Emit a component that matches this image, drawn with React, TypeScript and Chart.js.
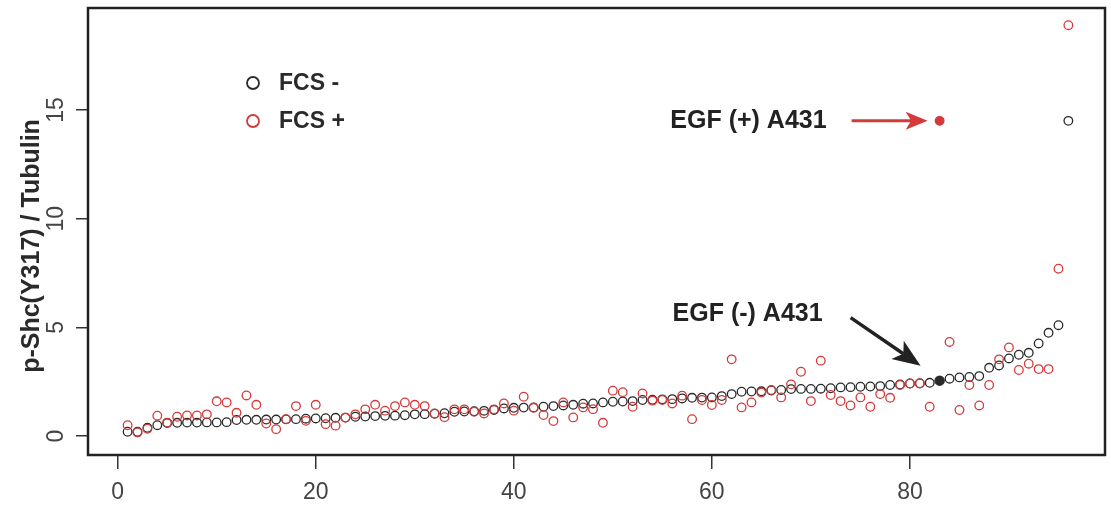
import React, { useEffect, useRef } from 'react';
import { Chart, registerables } from 'chart.js';

Chart.register(...registerables);

// ---- data ----
const xTickValues = [0, 20, 40, 60, 80];
const yTickValues = [0, 5, 10, 15];

// FCS - (black), sample 1..96, sorted ascending
const fcsMinus = [
  0.2, 0.2, 0.38, 0.5, 0.6, 0.61, 0.62, 0.62, 0.63, 0.63,
  0.64, 0.74, 0.75, 0.75, 0.76, 0.76, 0.77, 0.78, 0.8, 0.81,
  0.82, 0.84, 0.85, 0.89, 0.9, 0.92, 0.93, 0.94, 0.96, 1.0,
  1.01, 1.03, 1.05, 1.12, 1.13, 1.14, 1.16, 1.2, 1.27, 1.3,
  1.31, 1.32, 1.35, 1.38, 1.41, 1.44, 1.49, 1.5, 1.55, 1.58,
  1.59, 1.61, 1.66, 1.67, 1.69, 1.7, 1.73, 1.76, 1.77, 1.78,
  1.84, 1.93, 2.04, 2.05, 2.06, 2.1, 2.12, 2.16, 2.17, 2.17,
  2.18, 2.2, 2.24, 2.25, 2.27, 2.28, 2.3, 2.35, 2.37, 2.42,
  2.43, 2.45, 2.55, 2.64, 2.7, 2.72, 2.76, 3.14, 3.25, 3.57,
  3.74, 3.83, 4.26, 4.75, 5.1, 14.5,
];

// FCS + (red), same samples
const fcsPlus = [
  0.5, 0.17, 0.34, 0.94, 0.62, 0.89, 0.95, 0.95, 1.0, 1.6,
  1.55, 1.07, 1.87, 1.44, 0.58, 0.32, 0.78, 1.38, 0.7, 1.44,
  0.55, 0.48, 0.85, 1.0, 1.23, 1.44, 1.17, 1.38, 1.55, 1.44,
  1.38, 1.04, 0.87, 1.23, 1.23, 1.12, 1.04, 1.23, 1.5, 1.17,
  1.81, 1.3, 0.97, 0.69, 1.55, 0.86, 1.32, 1.24, 0.61, 2.09,
  2.02, 1.35, 1.96, 1.63, 1.66, 1.5, 1.86, 0.78, 1.66, 1.43,
  1.66, 3.53, 1.32, 1.55, 2.0, 2.12, 1.78, 2.38, 2.96, 1.61,
  3.47, 1.89, 1.61, 1.41, 1.78, 1.35, 1.93, 1.76, 2.35, 2.42,
  2.42, 1.35, 14.5, 4.33, 1.2, 2.35, 1.41, 2.35, 3.53, 4.08,
  3.04, 3.33, 3.08, 3.08, 7.7, 18.9,
];

const highlightSample = 83; // EGF-treated A431 control
const legendLabels = ['FCS -', 'FCS +'];
const annotationPlus = 'EGF (+) A431';
const annotationMinus = 'EGF (-) A431';
const yTitle = 'p-Shc(Y317) / Tubulin';

const BLACK = '#2a2a2a';
const RED = '#d43a3a';
const TICK_FONT = '"Liberation Sans", Arial, sans-serif';
const BOLD_FONT = '"Liberation Sans", Arial, sans-serif';

function drawArrow(
  ctx: CanvasRenderingContext2D,
  x1: number, y1: number, x2: number, y2: number,
  headLen: number, headHalf: number, color: string, lw: number
) {
  const ang = Math.atan2(y2 - y1, x2 - x1);
  const c = Math.cos(ang), s = Math.sin(ang);
  const bx = x2 - headLen * c, by = y2 - headLen * s;
  const nx = x2 - headLen * 0.75 * c, ny = y2 - headLen * 0.75 * s;
  ctx.save();
  ctx.strokeStyle = color;
  ctx.fillStyle = color;
  ctx.lineWidth = lw;
  ctx.beginPath();
  ctx.moveTo(x1, y1);
  ctx.lineTo(nx, ny);
  ctx.stroke();
  ctx.beginPath();
  ctx.moveTo(x2, y2);
  ctx.lineTo(bx - headHalf * s, by + headHalf * c);
  ctx.lineTo(nx, ny);
  ctx.lineTo(bx + headHalf * s, by - headHalf * c);
  ctx.closePath();
  ctx.fill();
  ctx.restore();
}

const decorPlugin = {
  id: 'decor',
  afterDraw(chart: any) {
    const { ctx, chartArea, scales } = chart;
    const xs = scales.x, ys = scales.y;
    ctx.save();

    // box
    ctx.strokeStyle = '#222';
    ctx.lineWidth = 2.5;
    ctx.strokeRect(chartArea.left, chartArea.top, chartArea.right - chartArea.left, chartArea.bottom - chartArea.top);

    // y tick labels, rotated
    ctx.fillStyle = '#444';
    ctx.font = `23px ${TICK_FONT}`;
    ctx.textAlign = 'center';
    ctx.textBaseline = 'middle';
    yTickValues.forEach((v) => {
      const py = ys.getPixelForValue(v);
      ctx.save();
      ctx.translate(57, py);
      ctx.rotate(-Math.PI / 2);
      ctx.fillText(String(v), 0, 0);
      ctx.restore();
    });

    // y title
    ctx.save();
    ctx.fillStyle = '#2a2a2a';
    ctx.font = `bold 25px ${BOLD_FONT}`;
    ctx.translate(32, 246);
    ctx.rotate(-Math.PI / 2);
    ctx.textAlign = 'center';
    ctx.textBaseline = 'middle';
    ctx.fillText(yTitle, 0, 0);
    ctx.restore();

    // legend
    const legendColors = [BLACK, RED];
    const legendY = [83, 121];
    legendLabels.forEach((lab, i) => {
      ctx.beginPath();
      ctx.strokeStyle = legendColors[i];
      ctx.lineWidth = 1.8;
      ctx.arc(253, legendY[i], 6, 0, Math.PI * 2);
      ctx.stroke();
      ctx.fillStyle = '#2a2a2a';
      ctx.font = `bold 23px ${BOLD_FONT}`;
      ctx.textAlign = 'left';
      ctx.textBaseline = 'middle';
      ctx.fillText(lab, 279, legendY[i] + 1);
    });

    // annotations
    const hi = highlightSample - 1;
    const px = xs.getPixelForValue(highlightSample);
    const pyPlus = ys.getPixelForValue(fcsPlus[hi]);
    const pyMinus = ys.getPixelForValue(fcsMinus[hi]);

    ctx.fillStyle = '#222';
    ctx.font = `bold 25px ${BOLD_FONT}`;
    ctx.textAlign = 'right';
    ctx.textBaseline = 'middle';
    ctx.fillText(annotationPlus, px - 113, pyPlus);
    drawArrow(ctx, px - 88, pyPlus, px - 12, pyPlus, 22, 9, RED, 3);

    ctx.fillStyle = '#222';
    ctx.fillText(annotationMinus, px - 117, pyMinus - 67);
    drawArrow(ctx, px - 89, pyMinus - 63, px - 19, pyMinus - 15, 28, 11, '#222', 3.5);

    ctx.restore();
  },
};

export default function App() {
  const canvasRef = useRef<HTMLCanvasElement | null>(null);

  useEffect(() => {
    const canvas = canvasRef.current;
    if (!canvas) return;
    const samples = fcsMinus.map((_, i) => i + 1);

    const chart = new Chart(canvas, {
      type: 'scatter',
      data: {
        datasets: [
          {
            label: legendLabels[1],
            data: samples.map((x, i) => ({ x, y: fcsPlus[i] })),
            order: 0,
            pointRadius: 4.3,
            pointBorderWidth: 1.3,
            pointBorderColor: RED,
            pointBackgroundColor: samples.map((x) => (x === highlightSample ? RED : 'rgba(0,0,0,0)')),
          },
          {
            label: legendLabels[0],
            data: samples.map((x, i) => ({ x, y: fcsMinus[i] })),
            order: 1,
            pointRadius: samples.map((x) => (x === highlightSample ? 4.6 : 4.3)),
            pointBorderWidth: 1.3,
            pointBorderColor: BLACK,
            pointBackgroundColor: samples.map((x) => (x === highlightSample ? BLACK : 'rgba(0,0,0,0)')),
          },
        ],
      },
      options: {
        animation: false,
        responsive: false,
        devicePixelRatio: 1,
        layout: { padding: { left: 0, right: 6, top: 8, bottom: 0 } },
        plugins: { legend: { display: false }, tooltip: { enabled: false } },
        scales: {
          x: {
            type: 'linear',
            min: -3.0,
            max: 99.7,
            afterBuildTicks: (s: any) => {
              s.ticks = xTickValues.map((v) => ({ value: v }));
            },
            afterFit: (s: any) => {
              s.height = 51;
            },
            border: { display: false },
            grid: {
              display: true,
              drawOnChartArea: false,
              drawTicks: true,
              tickLength: 14,
              color: '#333',
              lineWidth: 1.5,
            },
            ticks: {
              color: '#444',
              font: { family: TICK_FONT, size: 23 },
              padding: 10,
              maxRotation: 0,
              autoSkip: false,
            },
          },
          y: {
            type: 'linear',
            min: -0.87,
            max: 19.69,
            afterBuildTicks: (s: any) => {
              s.ticks = yTickValues.map((v) => ({ value: v }));
            },
            afterFit: (s: any) => {
              s.width = 88;
            },
            border: { display: false },
            grid: {
              display: true,
              drawOnChartArea: false,
              drawTicks: true,
              tickLength: 12,
              color: '#333',
              lineWidth: 1.5,
            },
            ticks: {
              color: 'rgba(0,0,0,0)',
              font: { family: TICK_FONT, size: 1 },
              autoSkip: false,
            },
          },
        },
      },
      plugins: [decorPlugin],
    });

    return () => chart.destroy();
  }, []);

  return (
    <div style={{ position: 'fixed', left: 0, top: 0, width: 1111, height: 506, background: '#fff' }}>
      <canvas ref={canvasRef} width={1111} height={506} />
    </div>
  );
}
